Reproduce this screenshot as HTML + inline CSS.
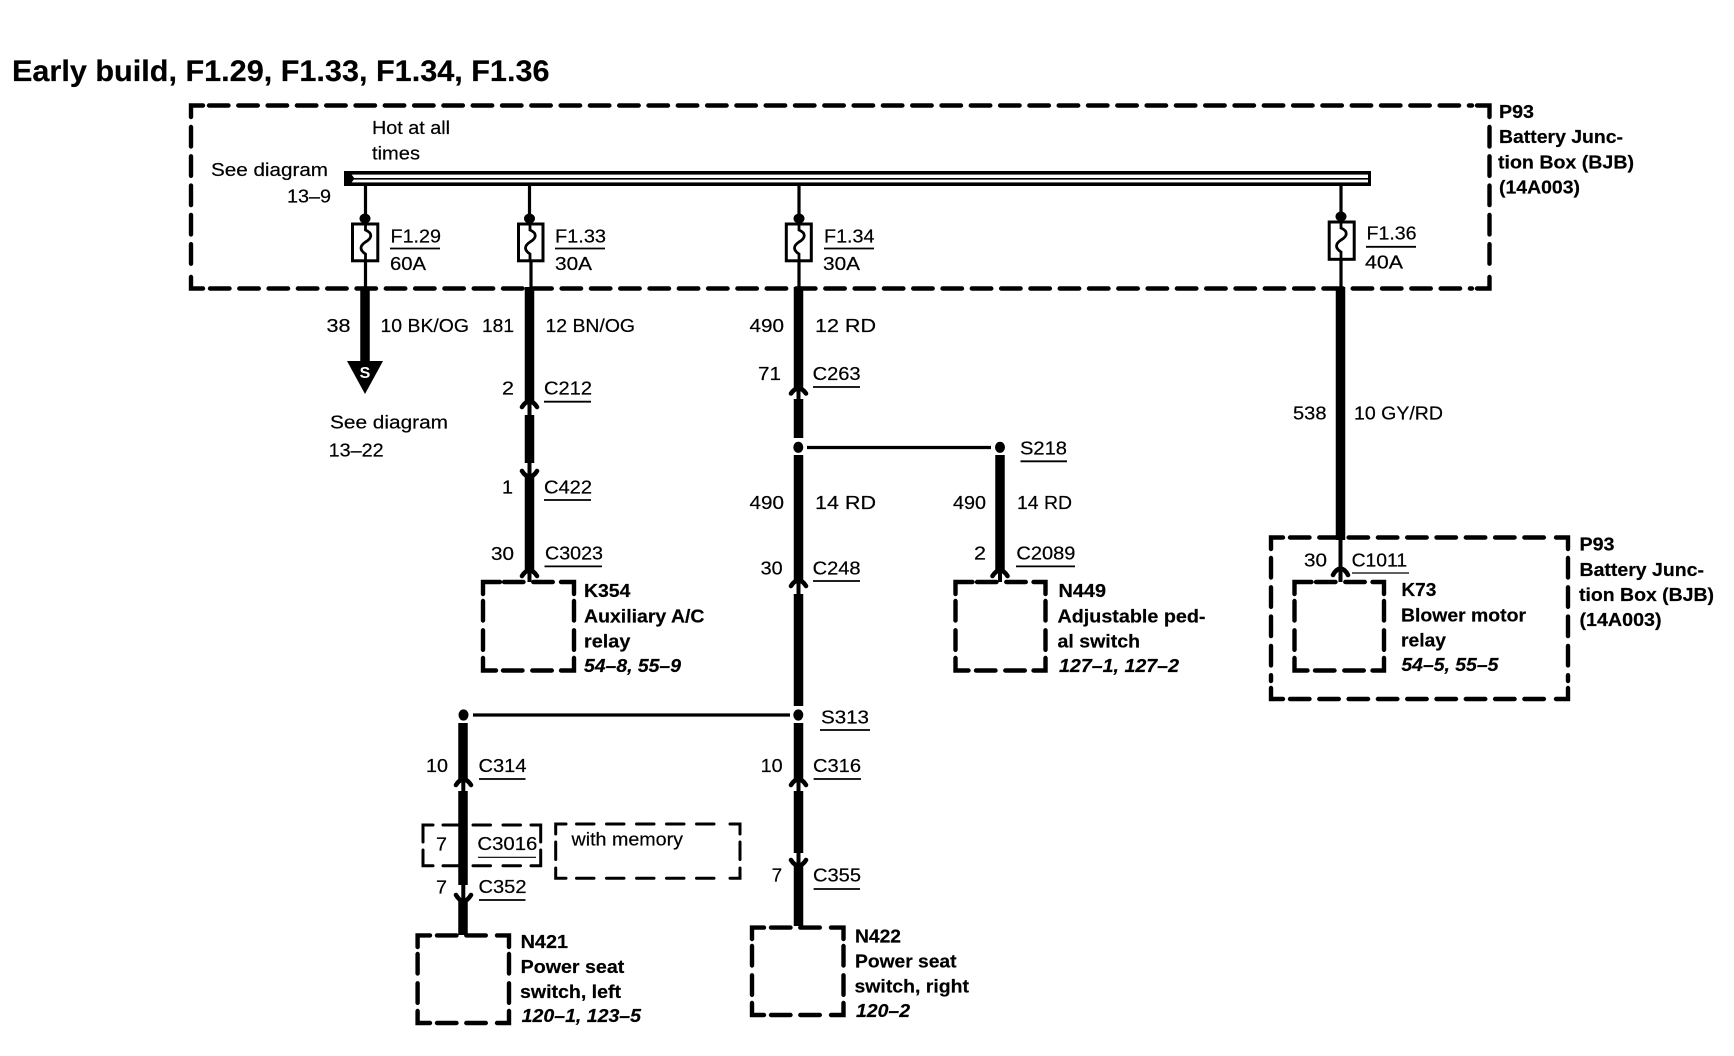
<!DOCTYPE html>
<html><head><meta charset="utf-8"><title>Early build wiring diagram</title>
<style>
html,body{margin:0;padding:0;background:#fff;width:1734px;height:1056px;overflow:hidden}
svg{display:block}
text{font-family:"Liberation Sans",Arial,sans-serif;font-size:18px;fill:#000;stroke:#000;stroke-width:.2}
.b{font-weight:bold}
.i{font-weight:bold;font-style:italic}
.t{font-weight:bold;font-size:30px}
.u{stroke:#000;stroke-width:1.8;fill:none}
.w{stroke:#000;stroke-width:9.5;fill:none}
.h{stroke:#000;stroke-width:3.2;fill:none}
.l{stroke:#000;stroke-width:4;fill:none}
.c{stroke:#000;stroke-width:4.6;fill:none;stroke-linecap:round}
.f{stroke:#000;stroke-width:3;fill:#fff}
.q{stroke:#000;stroke-width:2.8;fill:none}
.d{stroke:#000;stroke-width:4.4;fill:none;stroke-linecap:round;stroke-dasharray:19.5 9.8}
.k{stroke:#000;stroke-width:4.4;fill:none;stroke-linecap:round;stroke-linejoin:miter}
.d2{stroke:#000;stroke-width:3;fill:none;stroke-linecap:round;stroke-dasharray:17.5 12.5}
.k2{stroke:#000;stroke-width:3;fill:none;stroke-linecap:round;stroke-linejoin:miter}
</style></head><body>
<svg xmlns="http://www.w3.org/2000/svg" width="1734" height="1056" viewBox="0 0 1734 1056">
<rect width="1734" height="1056" fill="#fff"/>

<!-- main box -->
<path class="k" d="M191,117V105.5H203M1477,105.5H1489.5V117M1489.5,277V288.5H1477M203,288.5H191V277"/>
<path class="d" d="M209,105.5H1472M1489.5,127V268M210,288.5H1472M191,127V268"/>

<!-- bus -->
<rect x="344" y="171" width="1027" height="3.6" fill="#000"/>
<rect x="344" y="178" width="1027" height="1.6" fill="#000"/>
<rect x="344" y="182.4" width="1027" height="3.6" fill="#000"/>
<rect x="1368" y="171" width="3" height="15" fill="#000"/>
<polygon points="344,171 349,171 354.5,178.5 349,186 344,186" fill="#000"/>

<!-- fuses -->
<path class="h" d="M365.5,186V222M365.5,260V288M529.5,186V222M531,260V288M799,186V222M799,260V288M1341,186V220M1341,258V288"/>
<ellipse cx="365" cy="218.5" rx="5.5" ry="5" fill="#000"/>
<ellipse cx="529.5" cy="218.5" rx="5.5" ry="5" fill="#000"/>
<ellipse cx="799" cy="218.5" rx="5.5" ry="5" fill="#000"/>
<ellipse cx="1341" cy="216.5" rx="5.5" ry="5" fill="#000"/>
<rect class="f" x="352.5" y="224" width="25.3" height="36.8"/>
<rect class="f" x="518.5" y="224" width="24.5" height="36.8"/>
<rect class="f" x="786.3" y="224" width="25" height="36.8"/>
<rect class="f" x="1329.2" y="222" width="25" height="37.3"/>
<path class="q" d="M365.5,224v6c7,3 7,8 0,12c-6,4 -6,8 0,12v7"/>
<path class="q" d="M530,224v6c7,3 7,8 0,12c-6,4 -6,8 0,12v7"/>
<path class="q" d="M799,224v6c7,3 7,8 0,12c-6,4 -6,8 0,12v7"/>
<path class="q" d="M1341,222v6c7,3 7,8 0,12c-6,4 -6,8 0,12v7"/>

<!-- F1.29 wire + ground -->
<path class="w" d="M365,287V362"/>
<polygon points="347,361 383,361 365,394" fill="#000"/>
<circle cx="365" cy="372" r="6.5" fill="#000"/>
<text x="365" y="378" text-anchor="middle" class="b" style="font-size:16px;fill:#fff;stroke:none">S</text>

<!-- F1.33 wire -->
<path class="w" d="M529.5,287V402M529.5,415V463M529.5,475V571"/>
<path class="l" d="M529.5,402V415M529.5,463V476M529.5,571V582"/>
<path class="c" d="M522,407Q525,402 529.5,401Q534,402 537,407M522,471Q525,476 529.5,477Q534,476 537,471M522,576Q525,571 529.5,570Q534,571 537,576"/>

<!-- F1.34 wire -->
<path class="w" d="M798.5,287V389M798.5,399V438M798.5,455V581M798.5,594V706M798.5,723V780M798.5,791V853M798.5,865V926"/>
<path class="l" d="M798.5,389V399M798.5,581V594M798.5,780V791M798.5,853V865"/>
<path class="c" d="M791,393.5Q794,389 798.5,388Q803,389 806,393.5M791,586Q794,581 798.5,580Q803,581 806,586M791,785Q794,780 798.5,779Q803,780 806,785M791,860Q794,865 798.5,866Q803,865 806,860"/>
<ellipse cx="798.3" cy="447.3" rx="5" ry="5.6" fill="#000"/>
<ellipse cx="798.3" cy="715" rx="5" ry="5.6" fill="#000"/>

<!-- S218 branch -->
<path class="h" d="M807,447.5H991"/>
<ellipse cx="1000" cy="447.3" rx="5" ry="5.6" fill="#000"/>
<path class="w" d="M1000,455V571"/>
<path class="l" d="M1000,571V582"/>
<path class="c" d="M992.5,576Q995.5,571 1000,570Q1004.5,571 1007.5,576"/>

<!-- S313 branch -->
<path class="h" d="M473,715H790"/>
<ellipse cx="463.5" cy="715" rx="5" ry="5.6" fill="#000"/>
<path class="w" d="M463,723V780M463,791V885M463,899V935"/>
<path class="l" d="M463.3,780V791M463.3,885V900"/>
<path class="c" d="M456,785Q459,780 463.3,779Q468,780 471,785M456,895Q459,900 463.3,902Q468,900 471,895"/>

<!-- F1.36 wire -->
<path class="w" d="M1340.5,287V540"/>
<path class="l" d="M1340.5,538V582"/>
<path class="c" d="M1333,575Q1336,569 1340.5,568.5Q1345,569 1348,575"/>

<!-- K354 box -->
<path class="k" d="M483,594V582H500M561,582H574V594M574,658V670.5H561M496,670.5H483V658"/>
<path class="d" d="M504,582H555M574,601V651M503,670.5H552M483,601V651"/>
<!-- N449 box -->
<path class="k" d="M955.5,594V582H972.5M1033.5,582H1045.5V594M1045.5,658V670.5H1033.5M968.5,670.5H955.5V658"/>
<path class="d" d="M977,582H1028M1045.5,601V651M976,670.5H1025M955.5,601V651"/>
<!-- K73 box -->
<path class="k" d="M1294.5,594V582H1311.5M1372.5,582H1384V594M1384,658V670.5H1372.5M1307.5,670.5H1294.5V658"/>
<path class="d" d="M1316,582H1367M1384,601V651M1315,670.5H1364M1294.5,601V651"/>
<!-- N421 box -->
<path class="k" d="M417.6,947V935.4H430M497,935.4H509V947M509,1011V1023H497M430,1023H417.6V1011"/>
<path class="d" d="M437,935.4H490M509,954V1004M437,1023H487M417.6,954V1004"/>
<!-- N422 box -->
<path class="k" d="M752,939V927.6H764M831,927.6H843.5V939M843.5,1003V1015H831M764,1015H752V1003"/>
<path class="d" d="M771,927.6H824M843.5,946V996M771,1015H821M752,946V996"/>
<!-- lower P93 box -->
<path class="k" d="M1271,549V537.5H1283M1556,537.5H1568V549M1568,688V699H1556M1283,699H1271V688"/>
<path class="d" d="M1290,537.5H1551M1568,558V681M1290,699H1551M1271,558V681"/>

<!-- C3016 dashed -->
<path class="k2" d="M423,842V825H433M531,825H540.7V842M540.7,850V865.7H531M433,865.7H423V850"/>
<path class="d2" d="M443,825H524M443,865.7H524"/>
<!-- with memory dashed -->
<path class="k2" d="M555.7,834V824H566M730,824H740V834M740,868V878.3H730M566,878.3H555.7V868"/>
<path class="d2" d="M576.5,824H717M576.5,878.3H717M555.7,842V860M740,842V860"/>

<!-- underlines -->
<path class="u" d="M390,248.5H440M555,248.5H605M824,248.5H874M1366,246.8H1416M813,387H860M544,401.7H591M544,500H591M1020.5,461.3H1067M544.5,566.4H602M813,581H860M820,730H870M479,779H525.5M813.6,779H861M479,900H525.5M813.6,889H860M1016,566.4H1075"/>
<path class="u" style="stroke-width:1.2" d="M478,857.3H536M1352,573H1409"/>

<!-- text -->
<text class="t" x="12" y="81" textLength="537.5" lengthAdjust="spacingAndGlyphs">Early build, F1.29, F1.33, F1.34, F1.36</text>
<text x="372" y="134" textLength="78" lengthAdjust="spacingAndGlyphs">Hot at all</text>
<text x="372" y="159.6" textLength="48" lengthAdjust="spacingAndGlyphs">times</text>
<text x="211" y="176" textLength="117" lengthAdjust="spacingAndGlyphs">See diagram</text>
<text x="287" y="202.7" textLength="44" lengthAdjust="spacingAndGlyphs">13–9</text>
<text x="390.5" y="242.4" textLength="50.5" lengthAdjust="spacingAndGlyphs">F1.29</text>
<text x="390" y="270" textLength="36" lengthAdjust="spacingAndGlyphs">60A</text>
<text x="555" y="242.4" textLength="51" lengthAdjust="spacingAndGlyphs">F1.33</text>
<text x="555" y="270" textLength="37" lengthAdjust="spacingAndGlyphs">30A</text>
<text x="824" y="242.4" textLength="50.5" lengthAdjust="spacingAndGlyphs">F1.34</text>
<text x="823" y="270" textLength="37" lengthAdjust="spacingAndGlyphs">30A</text>
<text x="1366.5" y="239.7" textLength="50" lengthAdjust="spacingAndGlyphs">F1.36</text>
<text x="1365" y="268.7" textLength="38" lengthAdjust="spacingAndGlyphs">40A</text>

<text x="326.5" y="332" textLength="24" lengthAdjust="spacingAndGlyphs">38</text>
<text x="380.5" y="332" textLength="88.5" lengthAdjust="spacingAndGlyphs">10 BK/OG</text>
<text x="482" y="332" textLength="32" lengthAdjust="spacingAndGlyphs">181</text>
<text x="545.5" y="332" textLength="89.5" lengthAdjust="spacingAndGlyphs">12 BN/OG</text>
<text x="749.5" y="332" textLength="34.5" lengthAdjust="spacingAndGlyphs">490</text>
<text x="815" y="332" textLength="61" lengthAdjust="spacingAndGlyphs">12 RD</text>

<text x="758" y="380" textLength="23" lengthAdjust="spacingAndGlyphs">71</text>
<text x="812.6" y="380" textLength="48" lengthAdjust="spacingAndGlyphs">C263</text>
<text x="502" y="394.6" textLength="12" lengthAdjust="spacingAndGlyphs">2</text>
<text x="544" y="394.6" textLength="48" lengthAdjust="spacingAndGlyphs">C212</text>
<text x="330" y="428.6" textLength="118" lengthAdjust="spacingAndGlyphs">See diagram</text>
<text x="328.6" y="456.6" textLength="55" lengthAdjust="spacingAndGlyphs">13–22</text>
<text x="502" y="493.3" textLength="11" lengthAdjust="spacingAndGlyphs">1</text>
<text x="544" y="493.3" textLength="48" lengthAdjust="spacingAndGlyphs">C422</text>
<text x="749.5" y="508.8" textLength="34.5" lengthAdjust="spacingAndGlyphs">490</text>
<text x="815" y="508.8" textLength="61" lengthAdjust="spacingAndGlyphs">14 RD</text>

<text class="b" x="1499" y="117.8" textLength="35" lengthAdjust="spacingAndGlyphs">P93</text>
<text class="b" x="1499" y="143" textLength="124" lengthAdjust="spacingAndGlyphs">Battery Junc-</text>
<text class="b" x="1498" y="168.4" textLength="136" lengthAdjust="spacingAndGlyphs">tion Box (BJB)</text>
<text class="b" x="1499" y="193.6" textLength="81" lengthAdjust="spacingAndGlyphs">(14A003)</text>

<text x="1293" y="419.5" textLength="33.5" lengthAdjust="spacingAndGlyphs">538</text>
<text x="1354" y="419.5" textLength="89" lengthAdjust="spacingAndGlyphs">10 GY/RD</text>
<text x="1020" y="454.5" textLength="47" lengthAdjust="spacingAndGlyphs">S218</text>
<text x="953" y="508.8" textLength="33" lengthAdjust="spacingAndGlyphs">490</text>
<text x="1017" y="508.8" textLength="55" lengthAdjust="spacingAndGlyphs">14 RD</text>

<text x="491" y="560" textLength="23" lengthAdjust="spacingAndGlyphs">30</text>
<text x="545" y="559.6" textLength="58" lengthAdjust="spacingAndGlyphs">C3023</text>
<text x="760.6" y="574.5" textLength="22" lengthAdjust="spacingAndGlyphs">30</text>
<text x="812.6" y="574.5" textLength="48" lengthAdjust="spacingAndGlyphs">C248</text>

<text class="b" x="584" y="597" textLength="46.4" lengthAdjust="spacingAndGlyphs">K354</text>
<text class="b" x="584" y="622.3" textLength="120.5" lengthAdjust="spacingAndGlyphs">Auxiliary A/C</text>
<text class="b" x="584" y="647.5" textLength="46.4" lengthAdjust="spacingAndGlyphs">relay</text>
<text class="i" x="584" y="671.8" textLength="97" lengthAdjust="spacingAndGlyphs">54–8, 55–9</text>

<text x="974" y="559.6" textLength="12" lengthAdjust="spacingAndGlyphs">2</text>
<text x="1016.4" y="559.6" textLength="59" lengthAdjust="spacingAndGlyphs">C2089</text>
<text class="b" x="1058.5" y="597" textLength="47.5" lengthAdjust="spacingAndGlyphs">N449</text>
<text class="b" x="1057.5" y="622.3" textLength="148" lengthAdjust="spacingAndGlyphs">Adjustable ped-</text>
<text class="b" x="1057.5" y="647.5" textLength="82.5" lengthAdjust="spacingAndGlyphs">al switch</text>
<text class="i" x="1059" y="671.8" textLength="120" lengthAdjust="spacingAndGlyphs">127–1, 127–2</text>

<text x="1304" y="566.4" textLength="23" lengthAdjust="spacingAndGlyphs">30</text>
<text x="1351.6" y="566.4" textLength="55.5" lengthAdjust="spacingAndGlyphs">C1011</text>
<text class="b" x="1401.4" y="596" textLength="35" lengthAdjust="spacingAndGlyphs">K73</text>
<text class="b" x="1401" y="621.3" textLength="125" lengthAdjust="spacingAndGlyphs">Blower motor</text>
<text class="b" x="1401" y="646.5" textLength="45" lengthAdjust="spacingAndGlyphs">relay</text>
<text class="i" x="1401.4" y="671" textLength="97" lengthAdjust="spacingAndGlyphs">54–5, 55–5</text>

<text class="b" x="1579.5" y="550.5" textLength="35" lengthAdjust="spacingAndGlyphs">P93</text>
<text class="b" x="1579.5" y="575.8" textLength="124.5" lengthAdjust="spacingAndGlyphs">Battery Junc-</text>
<text class="b" x="1579" y="601" textLength="135" lengthAdjust="spacingAndGlyphs">tion Box (BJB)</text>
<text class="b" x="1579.5" y="625.8" textLength="82" lengthAdjust="spacingAndGlyphs">(14A003)</text>

<text x="821" y="723.3" textLength="48" lengthAdjust="spacingAndGlyphs">S313</text>
<text x="426" y="772" textLength="22" lengthAdjust="spacingAndGlyphs">10</text>
<text x="478.5" y="772" textLength="48" lengthAdjust="spacingAndGlyphs">C314</text>
<text x="760.6" y="772" textLength="22" lengthAdjust="spacingAndGlyphs">10</text>
<text x="813" y="772" textLength="48" lengthAdjust="spacingAndGlyphs">C316</text>
<text x="436" y="850.5" textLength="11" lengthAdjust="spacingAndGlyphs">7</text>
<text x="477.4" y="850" textLength="60" lengthAdjust="spacingAndGlyphs">C3016</text>
<text x="571.5" y="845.5" textLength="111.5" lengthAdjust="spacingAndGlyphs">with memory</text>
<text x="436" y="893.3" textLength="11" lengthAdjust="spacingAndGlyphs">7</text>
<text x="478.5" y="893" textLength="48" lengthAdjust="spacingAndGlyphs">C352</text>
<text x="771.7" y="881.5" textLength="10.5" lengthAdjust="spacingAndGlyphs">7</text>
<text x="813" y="881.5" textLength="48" lengthAdjust="spacingAndGlyphs">C355</text>

<text class="b" x="520.6" y="948" textLength="47.4" lengthAdjust="spacingAndGlyphs">N421</text>
<text class="b" x="520.6" y="973" textLength="103.7" lengthAdjust="spacingAndGlyphs">Power seat</text>
<text class="b" x="520" y="998" textLength="101" lengthAdjust="spacingAndGlyphs">switch, left</text>
<text class="i" x="521.7" y="1022" textLength="119.3" lengthAdjust="spacingAndGlyphs">120–1, 123–5</text>

<text class="b" x="855" y="942.5" textLength="46" lengthAdjust="spacingAndGlyphs">N422</text>
<text class="b" x="855" y="967.7" textLength="101.5" lengthAdjust="spacingAndGlyphs">Power seat</text>
<text class="b" x="854.5" y="992.6" textLength="114.5" lengthAdjust="spacingAndGlyphs">switch, right</text>
<text class="i" x="856" y="1017" textLength="54" lengthAdjust="spacingAndGlyphs">120–2</text>
</svg>
</body></html>
